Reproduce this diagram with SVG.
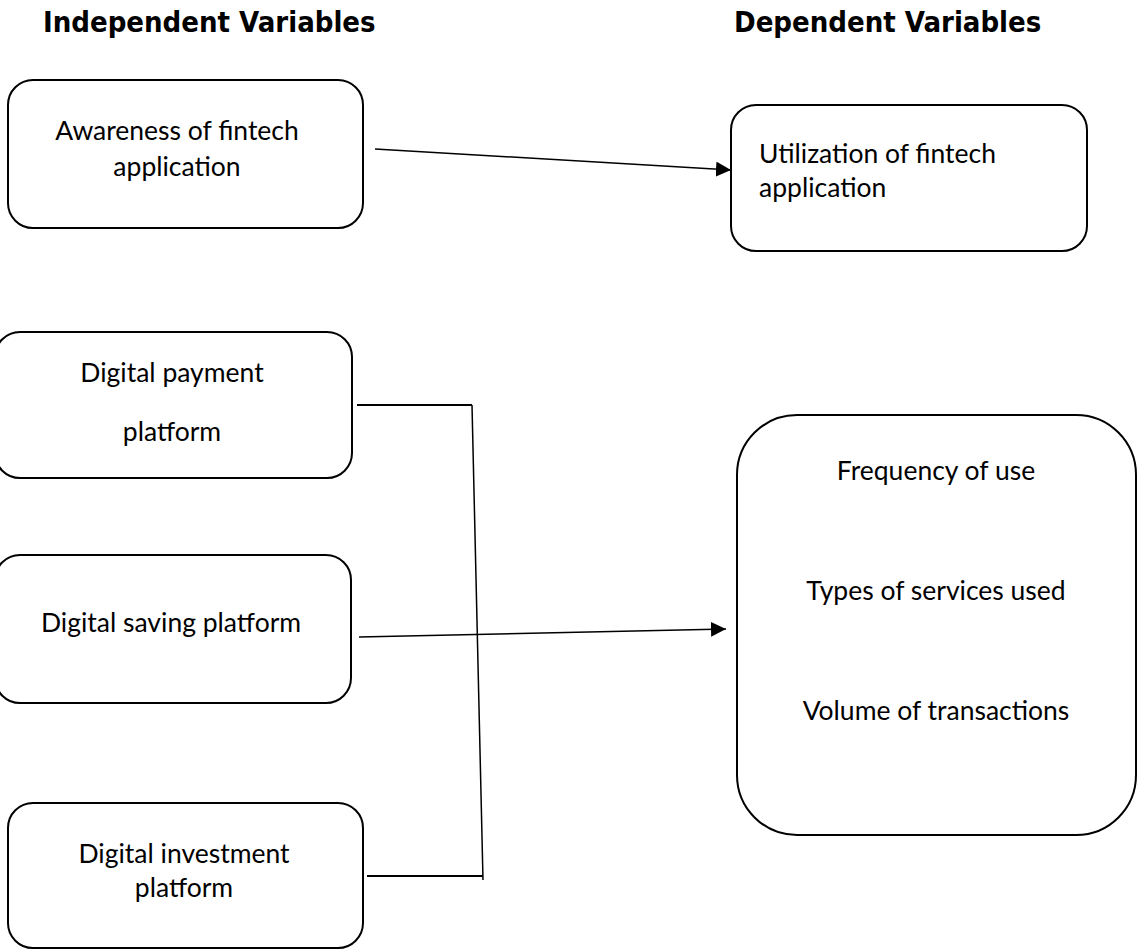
<svg xmlns="http://www.w3.org/2000/svg" width="1138" height="952" viewBox="0 0 1138 952">
  <defs>
    <marker id="arrow" markerWidth="16" markerHeight="16" refX="15" refY="7.5" orient="auto" markerUnits="userSpaceOnUse">
      <path d="M0,0 L15,7.5 L0,15 Z" fill="#000"/>
    </marker>
    <style>
      .box { fill: #fff; stroke: #000; stroke-width: 2; }
      .lbl { font-family: Lato, "Open Sans", sans-serif; font-size: 26.5px; fill: #000; }
      .mid { text-anchor: middle; }
      .hdr { font-family: "DejaVu Sans Condensed", "DejaVu Sans", Verdana, sans-serif; font-weight: bold; font-size: 29px; fill: #000; }
      .wire { fill: none; stroke: #000; stroke-width: 1.5; }
      .bar { fill: none; stroke: #000; stroke-width: 2; }
    </style>
  </defs>
  <rect width="1138" height="952" fill="#fff"/>

  <!-- column headings -->
  <text class="hdr" x="43" y="32">Independent Variables</text>
  <text class="hdr" x="734" y="32">Dependent Variables</text>

  <!-- connectors -->
  <g id="connectors">
    <line class="wire" x1="375" y1="149" x2="731" y2="170" marker-end="url(#arrow)"/>
    <polyline class="bar" points="357,405 472,405"/>
    <line class="wire" x1="472" y1="405" x2="483" y2="880"/>
    <polyline class="bar" points="367,876 483,876"/>
    <line class="wire" x1="359" y1="637" x2="726" y2="629" marker-end="url(#arrow)"/>
  </g>

  <g id="awareness">
    <rect class="box" x="8" y="80" width="355" height="148" rx="25"/>
    <text class="lbl mid" x="177" y="140">Awareness of fintech</text>
    <text class="lbl mid" x="177" y="176">application</text>
  </g>

  <g id="utilization">
    <rect class="box" x="731" y="105" width="356" height="146" rx="25"/>
    <text class="lbl" x="759" y="163">Utilization of fintech</text>
    <text class="lbl" x="759" y="197">application</text>
  </g>

  <g id="payment">
    <rect class="box" x="-5" y="332" width="357" height="146" rx="25"/>
    <text class="lbl mid" x="172" y="382">Digital payment</text>
    <text class="lbl mid" x="172" y="441">platform</text>
  </g>

  <g id="saving">
    <rect class="box" x="-5" y="555" width="356" height="148" rx="25"/>
    <text class="lbl mid" x="171" y="632">Digital saving platform</text>
  </g>

  <g id="investment">
    <rect class="box" x="8" y="803" width="355" height="145" rx="25"/>
    <text class="lbl mid" x="184" y="863">Digital investment</text>
    <text class="lbl mid" x="184" y="897">platform</text>
  </g>

  <g id="measures">
    <rect class="box" x="737" y="415" width="399" height="420" rx="60"/>
    <text class="lbl mid" x="936" y="480">Frequency of use</text>
    <text class="lbl mid" x="936" y="600">Types of services used</text>
    <text class="lbl mid" x="936" y="720">Volume of transactions</text>
  </g>
</svg>
